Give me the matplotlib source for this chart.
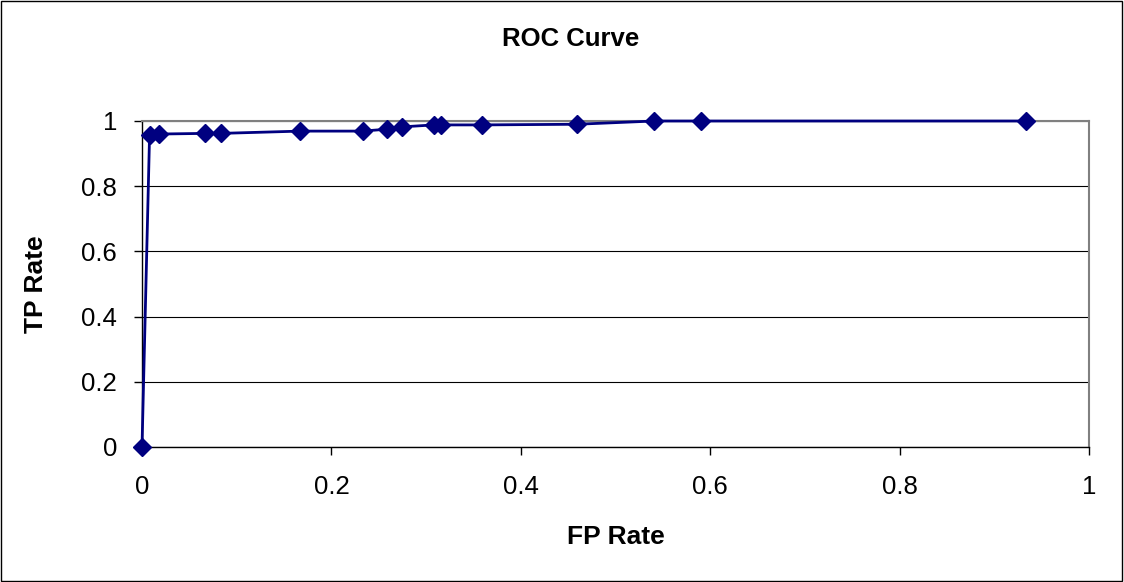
import matplotlib.pyplot as plt
from matplotlib.patches import Rectangle

plt.rcParams['font.family'] = ['Liberation Sans', 'DejaVu Sans']

# ROC points (FP rate, TP rate)
fp_rate = [0.0, 0.008, 0.018, 0.067, 0.083, 0.167, 0.233, 0.259, 0.275,
           0.308, 0.316, 0.359, 0.459, 0.541, 0.590, 0.934]
tp_rate = [0.0, 0.957, 0.960, 0.962, 0.962, 0.969, 0.969, 0.975, 0.982,
           0.988, 0.988, 0.988, 0.990, 1.0, 1.0, 1.0]
x_ticks = [0, 0.2, 0.4, 0.6, 0.8, 1]
y_ticks = [0, 0.2, 0.4, 0.6, 0.8, 1]

fig = plt.figure(figsize=(11.24, 5.82), dpi=100)
ax = fig.add_axes([142 / 1124, 1 - 447 / 582, (1089 - 142) / 1124, (447 - 121) / 582])

# outer border
fig.patches.append(Rectangle((0.001, 0.002), 0.997, 0.996, transform=fig.transFigure,
                             fill=False, edgecolor='black', linewidth=1))

ax.plot(fp_rate, tp_rate, color='#000080', linewidth=2, marker='D',
        markersize=9, zorder=5, clip_on=False)

ax.set_xlim(0, 1)
ax.set_ylim(0, 1)
ax.set_xticks(x_ticks)
ax.set_xticklabels([f'{v:g}' for v in x_ticks])
ax.set_yticks(y_ticks)
ax.set_yticklabels([f'{v:g}' for v in y_ticks])
ax.grid(axis='y', color='black', linewidth=0.8)
ax.set_axisbelow(True)
ax.tick_params(labelsize=18.5, length=6, width=1, direction='out')
ax.tick_params(axis='x', pad=14)
ax.tick_params(axis='y', pad=12)

for s in ['top', 'right']:
    ax.spines[s].set_color('#808080')
    ax.spines[s].set_linewidth(1.5)
for s in ['left', 'bottom']:
    ax.spines[s].set_color('black')
    ax.spines[s].set_linewidth(1)

ax.set_xlabel('FP Rate', fontsize=19, fontweight='bold', labelpad=19)
ax.set_ylabel('TP Rate', fontsize=19, fontweight='bold', labelpad=24)
fig.text(571 / 1124, 1 - 39 / 582, 'ROC Curve', ha='center', va='center',
         fontsize=18.5, fontweight='bold')

fig.savefig('out.png', dpi=100)
